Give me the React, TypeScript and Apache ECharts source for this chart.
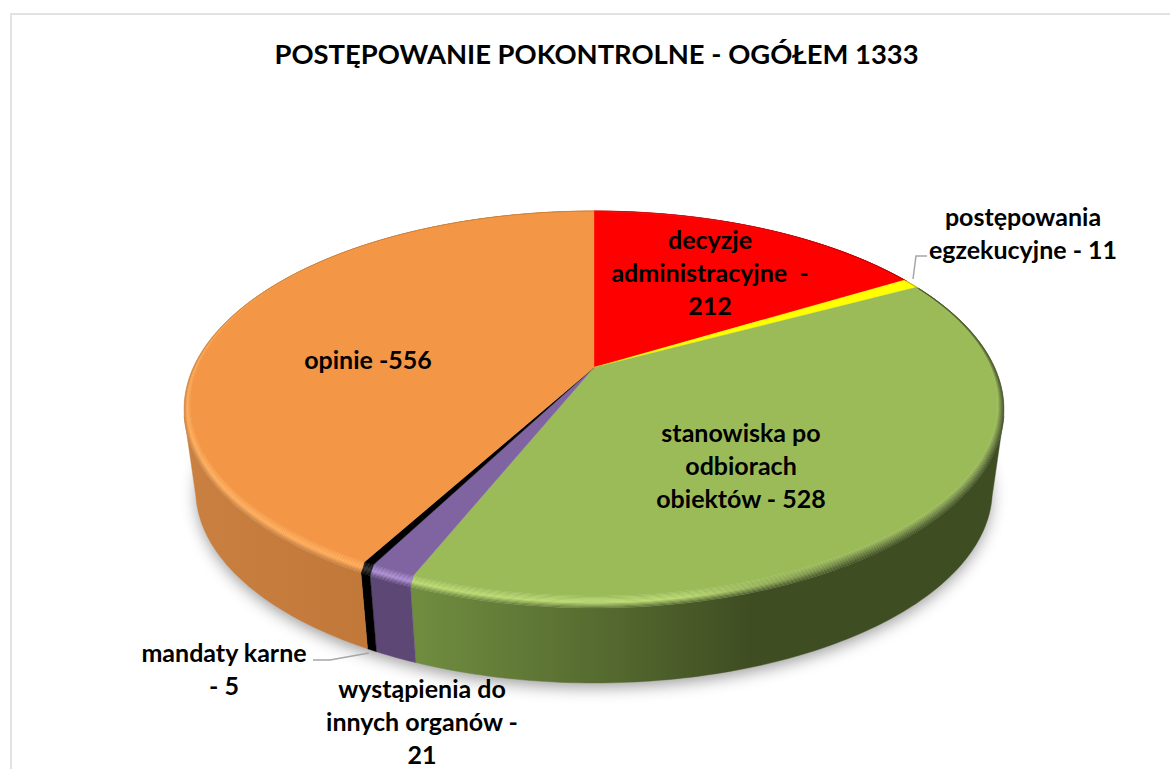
import React, { useEffect, useRef } from "react";
import * as echarts from "echarts";

const titleText = "POSTĘPOWANIE POKONTROLNE - OGÓŁEM 1333";
const categories = [
  "decyzje administracyjne",
  "postępowania egzekucyjne",
  "stanowiska po odbiorach obiektów",
  "wystąpienia do innych organów",
  "mandaty karne",
  "opinie",
];
const values = [212, 11, 528, 21, 5, 556];
const labels = [
  "decyzje\nadministracyjne  -\n212",
  "postępowania\negzekucyjne - 11",
  "stanowiska po\nodbiorach\nobiektów - 528",
  "wystąpienia do\ninnych organów -\n21",
  "mandaty karne\n- 5",
  "opinie -556",
];
const labelCentres = [
  [710, 272],
  [1023, 232],
  [741, 465],
  [422, 721],
  [224, 668],
  [368, 359],
];
const faceColors = ["#ff0000", "#ffff00", "#9bbb59", "#8064a2", "#000000", "#f39645"];
const highlightColors = ["#ff4040", "#ffff60", "#b8d86c", "#a98ad2", "#2a2a2a", "#ffa952"];
// wall colour at x = 184, 420, 600, 750, 1003
const wallX = [184, 420, 600, 750, 1003];
const wallColors = [
  ["#c00000", "#c00000", "#c00000", "#c00000", "#c00000"],
  ["#bbbb00", "#bbbb00", "#bbbb00", "#bbbb00", "#bbbb00"],
  ["#6f8c3f", "#6f8c3f", "#566b30", "#3f4d22", "#3f4d22"],
  ["#5c4775", "#5c4775", "#5c4775", "#5c4775", "#5c4775"],
  ["#000000", "#000000", "#000000", "#000000", "#000000"],
  ["#c98040", "#bf7535", "#bf7535", "#bf7535", "#bf7535"],
];

const FONT = "Lato";
const CX = 594;
const C = -0.1907;
const WARP = 0.035;
const plane = (top: number, bottom: number, R: number) => ({
  a: (bottom * (1 + C) - top * (1 - C)) / 2,
  b: (bottom * (1 + C) + top * (1 - C)) / 2,
  R,
});
const facePlane = plane(212, 596, 396.5);
const rimPlane = plane(211, 608, 402.5);
const basePlane = plane(297, 683, 391);

const point = (p: any, angle: number) => {
  const theta = angle + WARP * Math.sin(angle);
  const u = Math.sin(theta);
  const v = -Math.cos(theta);
  const d = 1 + C * v;
  return [CX + (p.R * u) / d, (p.a * v + p.b) / d];
};
const arc = (p: any, a0: number, a1: number) => {
  const n = Math.max(2, Math.ceil(((a1 - a0) * 180) / Math.PI));
  const pts: number[][] = [];
  for (let i = 0; i <= n; i++) pts.push(point(p, a0 + ((a1 - a0) * i) / n));
  return pts;
};
const total = values.reduce((s, v) => s + v, 0);
const angles = (i: number) => {
  const before = values.slice(0, i).reduce((s, v) => s + v, 0);
  return [(before / total) * 2 * Math.PI, ((before + values[i]) / total) * 2 * Math.PI];
};
const rgb = (h: string) => [1, 3, 5].map((i) => parseInt(h.slice(i, i + 2), 16));
const mix = (a: string, b: string, t: number) => {
  const A = rgb(a);
  const B = rgb(b);
  return "#" + A.map((x, i) => Math.round(x + (B[i] - x) * t).toString(16).padStart(2, "0")).join("");
};
const X0 = 184;
const X1 = 1003;
const hGrad = (stops: [number, string][]) => ({
  type: "linear",
  global: true,
  x: X0,
  y: 0,
  x2: X1,
  y2: 0,
  colorStops: stops.map(([x, color]) => ({ offset: (x - X0) / (X1 - X0), color })),
});

// The wall is only seen between the two silhouette tangents of the disc.
const frontStart = Math.PI - Math.acos(-C);
const frontEnd = Math.PI + Math.acos(-C);

const renderWall = (params: any) => {
  const i = params.dataIndex;
  const [a0, a1] = angles(i);
  const s = Math.max(a0, frontStart);
  const e = Math.min(a1, frontEnd);
  if (e <= s) return null;
  const fill = hGrad(wallX.map((x, k) => [x, wallColors[i][k]] as [number, string]));
  return {
    type: "polygon",
    shape: { points: [...arc(rimPlane, s, e), ...arc(basePlane, s, e).reverse()] },
    style: { fill, stroke: fill, lineWidth: 0.4 },
  };
};

const STRIPS = 10;
const renderRim = (params: any) => {
  const i = params.dataIndex;
  const [a0, a1] = angles(i);
  const children: any[] = [];
  for (let s = 0; s < STRIPS; s++) {
    const lerp = (t: number) => ({
      a: facePlane.a + (rimPlane.a - facePlane.a) * t,
      b: facePlane.b + (rimPlane.b - facePlane.b) * t,
      R: facePlane.R + (rimPlane.R - facePlane.R) * t,
    });
    const t0 = s / STRIPS;
    const t1 = (s + 1) / STRIPS;
    const t = (t0 + t1) / 2;
    const lit = (wall: string) =>
      t < 0.55
        ? mix(faceColors[i], highlightColors[i], t / 0.55)
        : mix(highlightColors[i], wall, (t - 0.55) / 0.45);
    const shaded = (wall: string) => mix(faceColors[i], wall, t);
    const fill = hGrad([
      [184, lit(wallColors[i][0])],
      [420, lit(wallColors[i][1])],
      [680, lit(wallColors[i][2])],
      [850, shaded(wallColors[i][3])],
      [1003, shaded(wallColors[i][4])],
    ]);
    children.push({
      type: "polygon",
      shape: { points: [...arc(lerp(t1), a0, a1), ...arc(lerp(t0), a0, a1).reverse()] },
      style: { fill, stroke: fill, lineWidth: 0.4 },
    });
  }
  return { type: "group", children };
};

const renderFace = (params: any) => {
  const i = params.dataIndex;
  const [a0, a1] = angles(i);
  return {
    type: "polygon",
    shape: { points: [[CX, facePlane.b], ...arc(facePlane, a0, a1)] },
    style: { fill: faceColors[i], stroke: faceColors[i], lineWidth: 0.4 },
  };
};
const renderLabel = (params: any) => {
  const i = params.dataIndex;
  return {
    type: "text",
    x: labelCentres[i][0],
    y: labelCentres[i][1],
    style: {
      text: labels[i],
      fill: "#000000",
      font: `bold 25px ${FONT}`,
      lineHeight: 33,
      align: "center",
      verticalAlign: "middle",
    },
  };
};

const seriesData = categories.map((name, i) => ({ name, value: values[i] }));
const layer = (renderItem: any, z: number) => ({
  type: "custom",
  coordinateSystem: "none",
  renderItem,
  data: seriesData,
  z,
  silent: true,
});

export default function App() {
  const ref = useRef<HTMLDivElement>(null);
  useEffect(() => {
    document.body.style.margin = "0";
    const chart = echarts.init(ref.current!, undefined, { renderer: "svg" });
    chart.setOption({
      animation: false,
      backgroundColor: "#ffffff",
      title: {
        text: titleText,
        left: 591.5,
        top: 35,
        textAlign: "center",
        textStyle: { fontFamily: FONT, fontWeight: "bold", fontSize: 27.4, color: "#000000" },
      },
      graphic: [
        {
          type: "polyline",
          shape: { points: [[11, 769], [11, 14], [1170, 14]] },
          style: { stroke: "#e2e2e2", lineWidth: 2, fill: "none" },
        },
        {
          type: "ellipse",
          shape: { cx: CX, cy: 490, rx: 397, ry: 192 },
          style: {
            fill: "#ffffff",
            shadowBlur: 16,
            shadowColor: "rgba(0,0,0,0.4)",
            shadowOffsetY: 5,
          },
        },
        {
          type: "polyline",
          z: 10,
          shape: { points: [[313, 660], [330, 660], [369, 653]] },
          style: { stroke: "#a6a6a6", lineWidth: 1.5, fill: "none" },
        },
        {
          type: "polyline",
          z: 10,
          shape: { points: [[927, 256], [916, 256], [913, 279]] },
          style: { stroke: "#a6a6a6", lineWidth: 1.5, fill: "none" },
        },
      ],
      series: [
        layer(renderWall, 2),
        layer(renderRim, 3),
        layer(renderFace, 4),
        layer(renderLabel, 5),
      ],
    });
    return () => chart.dispose();
  }, []);
  return <div ref={ref} style={{ width: 1170, height: 769 }} />;
}
